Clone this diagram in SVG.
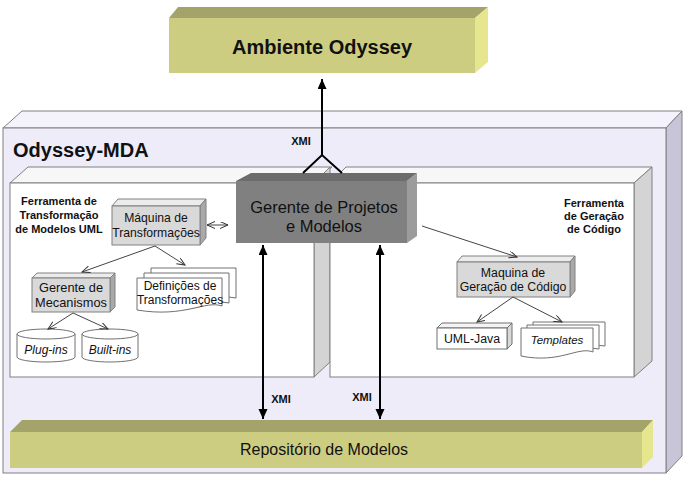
<svg xmlns="http://www.w3.org/2000/svg" width="689" height="481" viewBox="0 0 689 481">
<defs>
<marker id="ah" markerUnits="userSpaceOnUse" markerWidth="11" markerHeight="10" refX="10" refY="4.5" orient="auto-start-reverse"><path d="M0,0 L10,4.5 L0,9 z" fill="#000"/></marker>
<marker id="oh" markerUnits="userSpaceOnUse" markerWidth="10" markerHeight="9" refX="8" refY="3.5" orient="auto-start-reverse"><path d="M0,0 L8,3.5 L0,7" fill="none" stroke="#333" stroke-width="1"/></marker>
<style>
.t{font-family:"Liberation Sans",Arial,sans-serif;fill:#111}
.b{font-weight:bold}
.i{font-style:italic}
.edge{stroke:#808080;stroke-width:1}
.thk{stroke:#000;stroke-width:2;fill:none}
.thin{stroke:#444;stroke-width:1;fill:none}
.olF{fill:#cdcd82}.olT{fill:#a4a46a}.olS{fill:#e6e68e}
.gF{fill:#d9d9d9;stroke:#808080}.gT{fill:#ececec;stroke:#808080}.gS{fill:#a9a9a9;stroke:#808080}
.w{fill:#fff;stroke:#707070;stroke-width:1}
</style>
</defs>

<g id="odyssey-mda">
<polygon points="3,128 22,111 682,111 666,128" fill="#f4f2fb" class="edge"/>
<polygon points="666,128 682,111 682,456 666,473" fill="#c8c5d8" class="edge"/>
<rect x="3" y="128" width="663" height="345" fill="#eeecf8" class="edge"/>
<text class="t b" x="13" y="157" font-size="20">Odyssey-MDA</text>
</g>

<g id="panel-transformacao">
<polygon points="10,183 28,167 332,167 314,183" fill="#f7f7f7" class="edge"/>
<polygon points="314,183 330,167 330,362 314,377" fill="#d4d4d4" class="edge"/>
<rect x="10" y="183" width="304" height="194" fill="#fff" class="edge"/>
<text class="t b" font-size="11" text-anchor="middle"><tspan x="59" y="205">Ferramenta de</tspan><tspan x="59" y="219">Transformação</tspan><tspan x="59" y="233">de Modelos UML</tspan></text>
</g>

<g id="panel-geracao">
<polygon points="330,183 346,167 652,167 634,183" fill="#f7f7f7" class="edge"/>
<polygon points="634,183 652,167 652,361 634,377" fill="#d4d4d4" class="edge"/>
<rect x="330" y="183" width="304" height="194" fill="#fff" class="edge"/>
<text class="t b" font-size="11" text-anchor="middle"><tspan x="594" y="207">Ferramenta</tspan><tspan x="594" y="220">de Geração</tspan><tspan x="594" y="233">de Código</tspan></text>
</g>

<g id="gerente-projetos">
<polygon points="236,181 251,173 417,173 407,181" fill="#6c6c6c"/>
<polygon points="407,181 417,173 417,236 407,243" fill="#9c9c9c"/>
<rect x="236" y="181" width="171" height="62" fill="#808080"/>
<text class="t" font-size="16.5" text-anchor="middle" fill="#111"><tspan x="324" y="213">Gerente de Projetos</tspan><tspan x="324" y="232">e Modelos</tspan></text>
</g>

<g id="ambiente-odyssey">
<polygon points="169,18 178,7 488,7 475,18" class="olT"/>
<polygon points="475,18 488,7 488,62 475,73" class="olS"/>
<rect x="169" y="18" width="306" height="55" class="olF"/>
<text class="t b" x="322" y="54" font-size="20" text-anchor="middle">Ambiente Odyssey</text>
</g>

<g id="repositorio">
<polygon points="10,432 22,420 653,420 642,432" class="olT"/>
<polygon points="642,432 653,420 653,457 642,468" class="olS"/>
<rect x="10" y="432" width="632" height="36" class="olF"/>
<text class="t" x="324" y="455" font-size="16" text-anchor="middle">Repositório de Modelos</text>
</g>

<g id="maquina-transformacoes">
<polygon points="112,206 118,199 206,199 200,206" class="gT"/>
<polygon points="200,206 206,199 206,238 200,245" class="gS"/>
<rect x="112" y="206" width="88" height="39" class="gF"/>
<text class="t" font-size="12.2" text-anchor="middle"><tspan x="156" y="222">Máquina de</tspan><tspan x="156" y="237">Transformações</tspan></text>
</g>

<g id="gerente-mecanismos">
<polygon points="32,278 37,273 115,273 110,278" class="gT"/>
<polygon points="110,278 115,273 115,307 110,312" class="gS"/>
<rect x="32" y="278" width="78" height="34" class="gF"/>
<text class="t" font-size="12.8" text-anchor="middle"><tspan x="71" y="292">Gerente de</tspan><tspan x="71" y="307">Mecanismos</tspan></text>
</g>

<g id="definicoes">
<path d="M151,268 H236 V298 C220,294 205,306 185,304 L151,304 Z" class="w"/>
<path d="M144,273 H229 V303 C213,299 198,311 178,309 L144,309 Z" class="w"/>
<path d="M137,278 H222 V306 C205,300 185,318 137,310 Z" class="w"/>
<text class="t" font-size="12" text-anchor="middle"><tspan x="180" y="290">Definições de</tspan><tspan x="180" y="304">Transformações</tspan></text>
</g>

<g id="plug-ins">
<path d="M17,334 V357 A29,5 0 0 0 75,357 V334" class="w"/>
<ellipse cx="46" cy="334" rx="29" ry="5" class="w"/>
<text class="t i" x="46" y="354" font-size="12" text-anchor="middle">Plug-ins</text>
</g>

<g id="built-ins">
<path d="M82,334 V357 A28,5 0 0 0 138,357 V334" class="w"/>
<ellipse cx="110" cy="334" rx="28" ry="5" class="w"/>
<text class="t i" x="110" y="354" font-size="12" text-anchor="middle">Built-ins</text>
</g>

<g id="maquina-geracao">
<polygon points="457,262 462,256 575,256 570,262" class="gT"/>
<polygon points="570,262 575,256 575,291 570,297" class="gS"/>
<rect x="457" y="262" width="113" height="35" class="gF"/>
<text class="t" font-size="12.3" text-anchor="middle"><tspan x="513" y="277">Maquina de</tspan><tspan x="513" y="291">Geração de Código</tspan></text>
</g>

<g id="uml-java">
<polygon points="437,328 442,323 512,323 507,328" fill="#f4f4f4" stroke="#707070"/>
<polygon points="507,328 512,323 512,344 507,349" fill="#d8d8d8" stroke="#707070"/>
<rect x="437" y="328" width="70" height="21" class="w"/>
<text class="t" x="472" y="343" font-size="12.3" text-anchor="middle">UML-Java</text>
</g>

<g id="templates">
<path d="M533,322 H605 V346 C590,343 575,352 560,350 L533,350 Z" class="w"/>
<path d="M527,325 H599 V349 C584,346 569,355 554,353 L527,353 Z" class="w"/>
<path d="M521,328 H593 V352 C578,346 560,364 521,356 Z" class="w"/>
<text class="t i" x="557" y="344" font-size="11.5" text-anchor="middle">Templates</text>
</g>

<g id="connectors">
<line x1="322" y1="155" x2="322" y2="79" class="thk" marker-end="url(#ah)"/>
<polyline points="303,173 322,155 342,173" class="thk"/>
<line x1="263" y1="245" x2="263" y2="419" class="thk" marker-start="url(#ah)" marker-end="url(#ah)"/>
<line x1="380" y1="245" x2="380" y2="419" class="thk" marker-start="url(#ah)" marker-end="url(#ah)"/>
<line x1="207" y1="225" x2="228" y2="225" class="thin" marker-start="url(#oh)" marker-end="url(#oh)"/>
<line x1="155" y1="246" x2="82" y2="272" class="thin" marker-end="url(#oh)"/>
<line x1="155" y1="246" x2="185" y2="265" class="thin" marker-end="url(#oh)"/>
<line x1="73" y1="313" x2="48" y2="329" class="thin" marker-end="url(#oh)"/>
<line x1="73" y1="313" x2="108" y2="329" class="thin" marker-end="url(#oh)"/>
<line x1="422" y1="226" x2="517" y2="257" class="thin" marker-end="url(#oh)"/>
<line x1="513" y1="297" x2="477" y2="322" class="thin" marker-end="url(#oh)"/>
<line x1="513" y1="297" x2="562" y2="322" class="thin" marker-end="url(#oh)"/>
<text class="t b" x="301" y="145" font-size="11" text-anchor="middle">XMI</text>
<text class="t b" x="281" y="403" font-size="11" text-anchor="middle">XMI</text>
<text class="t b" x="362" y="401" font-size="11" text-anchor="middle">XMI</text>
</g>
</svg>
